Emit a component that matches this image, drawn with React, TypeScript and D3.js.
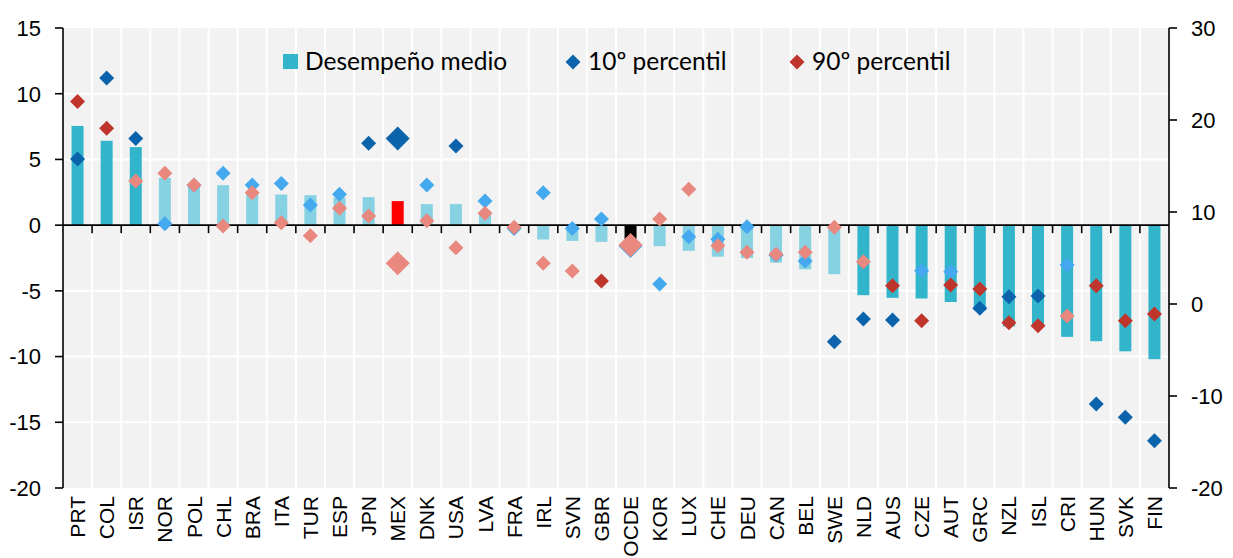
import React from "react";
import * as d3 from "d3";

const categories = ["PRT","COL","ISR","NOR","POL","CHL","BRA","ITA","TUR","ESP","JPN","MEX","DNK","USA","LVA","FRA","IRL","SVN","GBR","OCDE","KOR","LUX","CHE","DEU","CAN","BEL","SWE","NLD","AUS","CZE","AUT","GRC","NZL","ISL","CRI","HUN","SVK","FIN"];

// Desempeño medio (left axis)
const meanPerf = [7.55,6.42,5.94,3.6,2.9,3.04,2.5,2.33,2.28,2.1,2.13,1.83,1.6,1.6,0.9,0,-1.09,-1.2,-1.27,-1.05,-1.6,-1.95,-2.4,-2.5,-2.85,-3.36,-3.73,-5.33,-5.53,-5.58,-5.85,-6.5,-7.7,-7.7,-8.5,-8.83,-9.6,-10.2];
// 1 = significant (dark), 0 = not significant (light)
const meanSig = [1,1,1,0,0,0,0,0,0,0,0,0,0,0,0,0,0,0,0,0,0,0,0,0,0,0,0,1,1,1,1,1,1,1,1,1,1,1];

// 10º percentil (right axis)
const p10 = [15.76,24.57,18.0,8.73,12.9,14.2,12.93,13.1,10.76,11.92,17.46,18.0,12.93,17.17,11.2,8.2,12.1,8.22,9.24,6.3,2.17,7.32,7.03,8.4,5.3,4.67,-4.1,-1.63,-1.74,3.62,3.51,-0.47,0.8,0.87,4.24,-10.87,-12.3,-14.86];
const p10Sig = [1,1,1,0,0,0,0,0,0,0,1,1,0,1,0,0,0,0,0,0,0,0,0,0,0,0,1,1,1,0,0,1,1,1,0,1,1,1];

// 90º percentil (right axis)
const p90 = [22.0,19.1,13.37,14.2,12.93,8.48,12.1,8.84,7.43,10.4,9.57,4.42,9.05,6.12,9.86,8.33,4.42,3.59,2.5,6.4,9.24,12.47,6.34,5.62,5.4,5.62,8.33,4.6,1.99,-1.81,2.07,1.63,-2.03,-2.36,-1.3,1.99,-1.81,-1.09];
const p90Sig = [1,1,0,0,0,0,0,0,0,0,0,0,0,0,0,0,0,0,1,0,0,0,0,0,0,0,0,0,1,1,1,1,1,1,0,1,1,1];

const leftTicks = [15,10,5,0,-5,-10,-15,-20];
const rightTicks = [30,20,10,0,-10,-20];
const legendLabels = ["Desempeño medio","10º percentil","90º percentil"];

const W = 1233, H = 558;
const X0 = 63, X1 = 1169, Y0 = 28, Y1 = 488;

const C = {
  bg: "#f2f2f2",
  barDark: "#32b5cb",
  barLight: "#86d2e2",
  blueDark: "#0b64ab",
  blueLight: "#45a9ef",
  redDark: "#c0352b",
  redLight: "#e8887f",
  mex: "#ff0000",
  oecd: "#000000",
};

function diamond(cx: number, cy: number, half: number) {
  return `M${cx},${cy - half}L${cx + half},${cy}L${cx},${cy + half}L${cx - half},${cy}Z`;
}

export default function App() {
  const x = d3.scaleBand<string>().domain(categories).range([X0, X1]);
  const yL = d3.scaleLinear().domain([-20, 15]).range([Y1, Y0]);
  const yR = d3.scaleLinear().domain([-20, 30]).range([Y1, Y0]);
  const bw = x.bandwidth();
  const barW = 12;
  const cx = (c: string) => (x(c) as number) + bw / 2;
  const boundaries = categories.slice(1).map((c) => x(c) as number);
  const axisFont = "'Liberation Sans', Arial, sans-serif";
  const legendFont = "Lato, 'Open Sans', sans-serif";

  const barColor = (i: number) => {
    const c = categories[i];
    if (c === "MEX") return C.mex;
    if (c === "OCDE") return C.oecd;
    return meanSig[i] ? C.barDark : C.barLight;
  };
  const big = (c: string) => c === "MEX" || c === "OCDE";
  const mSize = (c: string) => (big(c) ? 12 : 7.5);

  return (
    <svg width={W} height={H} style={{ position: "absolute", left: 0, top: 0, background: "#fff" }}>
      <rect x={X0} y={Y0} width={X1 - X0} height={Y1 - Y0} fill={C.bg} />
      {/* horizontal gridlines */}
      {leftTicks.filter((t) => t !== 0 && t !== 15 && t !== -20).map((t) => (
        <line key={"h" + t} x1={X0} x2={X1} y1={yL(t)} y2={yL(t)} stroke="#fff" strokeWidth={2} />
      ))}
      {/* vertical gridlines */}
      {boundaries.map((b, i) => (
        <line key={"v" + i} x1={b} x2={b} y1={Y0} y2={Y1} stroke="#fff" strokeWidth={2} />
      ))}
      {/* bars */}
      {categories.map((c, i) => {
        const v = meanPerf[i];
        const y0 = yL(0), yv = yL(v);
        return (
          <rect key={"b" + c} x={cx(c) - barW / 2} y={Math.min(y0, yv)} width={barW}
            height={Math.abs(yv - y0)} fill={barColor(i)} />
        );
      })}
      {/* zero line */}
      <line x1={X0} x2={X1} y1={yL(0)} y2={yL(0)} stroke="#000" strokeWidth={1.6} />
      {boundaries.map((b, i) => (
        <line key={"zt" + i} x1={b} x2={b} y1={yL(0)} y2={yL(0) + 8} stroke="#000" strokeWidth={1.6} />
      ))}
      {/* 10th percentile markers */}
      {categories.map((c, i) => (
        <path key={"p10" + c} d={diamond(cx(c), yR(p10[i]), mSize(c))}
          fill={p10Sig[i] ? C.blueDark : C.blueLight} />
      ))}
      {/* 90th percentile markers */}
      {categories.map((c, i) => (
        <path key={"p90" + c} d={diamond(cx(c), yR(p90[i]), mSize(c))}
          fill={p90Sig[i] ? C.redDark : C.redLight} />
      ))}
      {/* left axis */}
      <line x1={X0} x2={X0} y1={Y0} y2={Y1} stroke="#000" strokeWidth={1.6} />
      {leftTicks.map((t) => (
        <g key={"lt" + t}>
          <line x1={X0 - 8} x2={X0} y1={yL(t)} y2={yL(t)} stroke="#000" strokeWidth={1.6} />
          <text x={41} y={yL(t)} dy="0.36em" textAnchor="end" fontFamily={axisFont} fontSize={22} fill="#000">{t}</text>
        </g>
      ))}
      {/* right axis */}
      <line x1={X1} x2={X1} y1={Y0} y2={Y1} stroke="#000" strokeWidth={1.6} />
      {rightTicks.map((t) => (
        <g key={"rt" + t}>
          <line x1={X1} x2={X1 + 8} y1={yR(t)} y2={yR(t)} stroke="#000" strokeWidth={1.6} />
          <text x={1191} y={yR(t)} dy="0.36em" textAnchor="start" fontFamily={axisFont} fontSize={22} fill="#000">{t}</text>
        </g>
      ))}
      {/* x labels */}
      {categories.map((c) => (
        <text key={"xl" + c} transform={`translate(${cx(c)},496) rotate(-90)`} dy="0.36em"
          textAnchor="end" fontFamily={axisFont} fontSize={21} fill="#000">{c}</text>
      ))}
      {/* legend */}
      <rect x={283} y={54} width={15} height={15} fill={C.barDark} />
      <text x={305} y={70} fontFamily={legendFont} fontSize={24.5} fill="#000">{legendLabels[0]}</text>
      <path d={diamond(573, 62, 7.5)} fill={C.blueDark} />
      <text x={588} y={70} fontFamily={legendFont} fontSize={24.5} fill="#000">{legendLabels[1]}</text>
      <path d={diamond(797, 62, 7.5)} fill={C.redDark} />
      <text x={812} y={70} fontFamily={legendFont} fontSize={24.5} fill="#000">{legendLabels[2]}</text>
    </svg>
  );
}
